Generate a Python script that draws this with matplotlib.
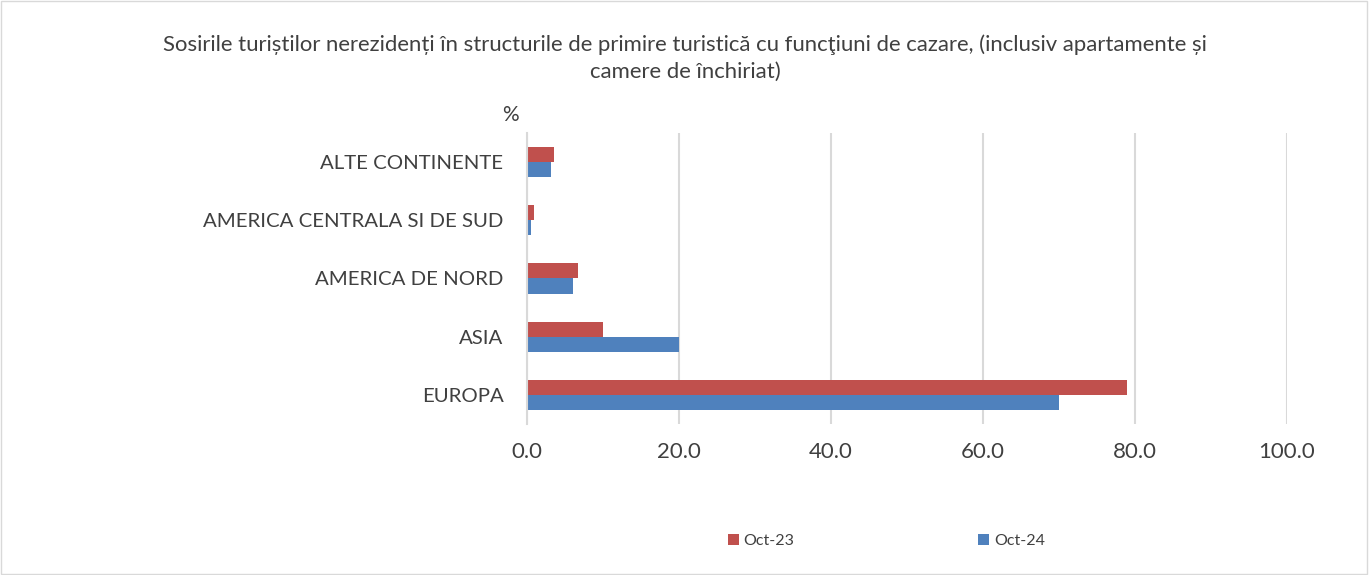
import matplotlib.pyplot as plt
import numpy as np
from matplotlib.patches import Rectangle

plt.rcParams['font.family'] = ['Lato', 'DejaVu Sans']

categories = ["EUROPA", "ASIA", "AMERICA DE NORD", "AMERICA CENTRALA SI DE SUD", "ALTE CONTINENTE"]
oct23 = [78.9, 10.0, 6.7, 0.9, 3.5]
oct24 = [70.0, 20.0, 6.1, 0.5, 3.2]
xticks = [0, 20, 40, 60, 80, 100]

text_color = "#404040"
red = "#C0504D"
blue = "#4F81BD"

fig = plt.figure(figsize=(13.7, 5.75), dpi=100)
ax = fig.add_axes([527 / 1370, 1 - 424 / 575, (1287 - 527) / 1370, (424 - 133) / 575])

y = np.arange(len(categories))
h = 0.26
ax.barh(y + h / 2, oct23, height=h, color=red, label="Oct-23")
ax.barh(y - h / 2, oct24, height=h, color=blue, label="Oct-24")

ax.set_xlim(0, 100)
ax.set_ylim(-0.5, len(categories) - 0.5)
ax.set_xticks(xticks)
ax.set_xticklabels(["{:.1f}".format(t) for t in xticks], fontsize=16, color=text_color)
ax.set_yticks(y)
ax.set_yticklabels(categories, fontsize=14.7, color=text_color)
ax.tick_params(axis="both", length=0)
ax.tick_params(axis="x", pad=13)
ax.tick_params(axis="y", pad=17)
ax.grid(axis="x", color="#D9D9D9", linewidth=1.5)
ax.set_axisbelow(True)
for s in ["top", "right", "bottom"]:
    ax.spines[s].set_visible(False)
ax.spines["left"].set_color("#D9D9D9")
ax.spines["left"].set_linewidth(1.5)

fig.text(0.5, 1 - 45 / 575,
         "Sosirile turiștilor nerezidenți în structurile de primire turistică cu funcţiuni de cazare, (inclusiv apartamente și",
         ha="center", va="center", fontsize=15.9, color=text_color)
fig.text(0.5, 1 - 72 / 575, "camere de închiriat)",
         ha="center", va="center", fontsize=15.9, color=text_color)
fig.text(510 / 1370, 1 - 115 / 575, "%", ha="center", va="center", fontsize=15, color=text_color)

fig.legend(loc="center", bbox_to_anchor=(0.647, 1 - 541 / 575), ncol=2, frameon=False,
           fontsize=11.5, handlelength=0.7, handleheight=0.7, handletextpad=0.3,
           columnspacing=11.5, labelcolor=text_color)

fig.patches.append(Rectangle((0.001, 0.002), 0.997, 0.996, transform=fig.transFigure,
                             fill=False, edgecolor="#D9D9D9", linewidth=1))

fig.savefig("out.png", dpi=100)
